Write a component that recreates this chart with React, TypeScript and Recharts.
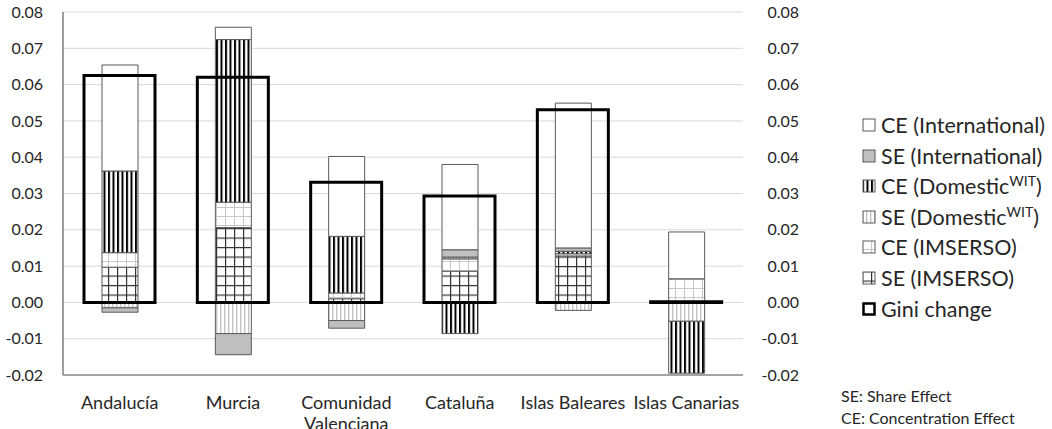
import React from "react";
import { BarChart, Bar, XAxis, YAxis, CartesianGrid } from "recharts";

// regions (categories)
const regions = [
  "Andalucía",
  "Murcia",
  "Comunidad Valenciana",
  "Cataluña",
  "Islas Baleares",
  "Islas Canarias",
];

// decomposition of the Gini change
const seImserso = [0.0097, 0.0206, 0.001, 0.0086, 0.0128, 0.0];
const ceImserso = [0.004, 0.007, 0.0016, 0.0034, 0.0006, 0.0065];
const seDomestic = [-0.0015, -0.0086, -0.005, 0.0005, -0.0022, -0.0052];
const ceDomestic = [0.0225, 0.0448, 0.0156, -0.0086, 0.0007, -0.0143];
const seInternational = [-0.0012, -0.0058, -0.0021, 0.002, 0.0009, 0.0];
const ceInternational = [0.0292, 0.0034, 0.022, 0.0235, 0.0399, 0.0129];
const giniChange = [0.0625, 0.062, 0.0331, 0.0293, 0.0531, 0.0002];

const yTicks = [-0.02, -0.01, 0, 0.01, 0.02, 0.03, 0.04, 0.05, 0.06, 0.07, 0.08];

const data = regions.map((region, i) => ({
  region,
  seIms: seImserso[i],
  ceIms: ceImserso[i],
  seDom: seDomestic[i],
  ceDom: ceDomestic[i],
  seInt: seInternational[i],
  ceInt: ceInternational[i],
  gini: giniChange[i],
}));

const FONT = "Lato, 'Liberation Sans', sans-serif";
const TEXT = "#262626";
const fmt = (v: number) => v.toFixed(2);

// series, bottom of stack first
const series = [
  { key: "seIms", fill: "url(#pSeIms)" },
  { key: "ceIms", fill: "url(#pCeIms)" },
  { key: "seDom", fill: "url(#pSeDom)" },
  { key: "ceDom", fill: "url(#pCeDom)" },
  { key: "seInt", fill: "#bfbfbf" },
  { key: "ceInt", fill: "#ffffff" },
];

const legendItems = [
  { label: "CE (International)", fill: "#ffffff" },
  { label: "SE (International)", fill: "#bfbfbf" },
  { label: "CE (Domestic", sup: "WIT", fill: "url(#pCeDom)" },
  { label: "SE (Domestic", sup: "WIT", fill: "url(#pSeDom)" },
  { label: "CE (IMSERSO)", fill: "url(#pCeIms)" },
  { label: "SE (IMSERSO)", fill: "url(#pSeIms)" },
  { label: "Gini change", fill: "none", gini: true },
];

function Patterns() {
  return (
    <svg width={0} height={0} style={{ position: "absolute" }}>
      <defs>
        <pattern id="pCeDom" patternUnits="userSpaceOnUse" width={4.5} height={10}>
          <rect width={4.5} height={10} fill="#fff" />
          <rect x={0} width={2} height={10} fill="#000" />
        </pattern>
        <pattern id="pSeDom" patternUnits="userSpaceOnUse" width={4} height={10}>
          <rect width={4} height={10} fill="#fff" />
          <rect x={0} width={1.4} height={10} fill="#c4c4c4" />
        </pattern>
        <pattern id="pCeIms" patternUnits="userSpaceOnUse" width={9} height={9}>
          <rect width={9} height={9} fill="#fff" />
          <rect x={0} width={1} height={9} fill="#c8c8c8" />
          <rect y={0} width={9} height={1} fill="#c8c8c8" />
        </pattern>
        <pattern id="pSeIms" patternUnits="userSpaceOnUse" width={9} height={9.5}>
          <rect width={9} height={9.5} fill="#fff" />
          <rect x={0} width={1.2} height={9.5} fill="#333" />
          <rect y={0} width={9} height={1.2} fill="#333" />
        </pattern>
      </defs>
    </svg>
  );
}

const CatTick = (props: any) => {
  const { x, y, payload } = props;
  const label = String(payload.value);
  const lines = label.length > 16 ? label.split(" ") : [label];
  return (
    <text x={x} y={y} textAnchor="middle" fill={TEXT} fontSize={18} fontFamily={FONT}>
      {lines.map((l, i) => (
        <tspan key={i} x={x} dy={i === 0 ? 31.5 : 21.5}>
          {l}
        </tspan>
      ))}
    </text>
  );
};

const LeftTick = (props: any) => {
  const { x, y, payload } = props;
  return (
    <text x={x - 18} y={y} dy="0.355em" textAnchor="end" fill={TEXT} fontSize={16} fontFamily={FONT}>
      {fmt(payload.value)}
    </text>
  );
};

const RightTick = (props: any) => {
  const { x, y, payload } = props;
  return (
    <text x={x + 54} y={y} dy="0.355em" textAnchor="end" fill={TEXT} fontSize={16} fontFamily={FONT}>
      {fmt(payload.value)}
    </text>
  );
};

export default function App() {
  return (
    <div
      style={{
        position: "absolute",
        left: 0,
        top: 0,
        width: 1052,
        height: 429,
        background: "#fff",
        overflow: "hidden",
        fontFamily: FONT,
      }}
    >
      <Patterns />
      <BarChart
        width={808}
        height={429}
        data={data}
        stackOffset="sign"
        margin={{ top: 12, right: 0, bottom: 14, left: 0 }}
      >
        <CartesianGrid xAxisId="main" yAxisId="l" vertical={false} stroke="#d9d9d9" strokeWidth={1} />
        <XAxis
          xAxisId="main"
          dataKey="region"
          height={40}
          interval={0}
          tickLine={false}
          tickSize={0}
          axisLine={{ stroke: "#8c8c8c", strokeWidth: 1.5 }}
          tick={<CatTick />}
        />
        <XAxis xAxisId="gini" dataKey="region" height={0} hide />
        <YAxis
          yAxisId="l"
          width={63}
          domain={[-0.02, 0.08]}
          ticks={yTicks}
          axisLine={{ stroke: "#7f7f7f", strokeWidth: 1.5 }}
          tickLine={false}
          tickSize={0}
          tick={<LeftTick />}
          allowDataOverflow
        />
        <YAxis
          yAxisId="r"
          orientation="right"
          width={65}
          domain={[-0.02, 0.08]}
          ticks={yTicks}
          axisLine={false}
          tickLine={false}
          tickSize={0}
          tick={<RightTick />}
          allowDataOverflow
        />
        {series.map((s) => (
          <Bar
            key={s.key}
            dataKey={s.key}
            xAxisId="main"
            yAxisId="l"
            stackId="a"
            barSize={36}
            fill={s.fill}
            stroke="#595959"
            strokeWidth={1}
            isAnimationActive={false}
          />
        ))}
        <Bar
          dataKey="gini"
          xAxisId="gini"
          yAxisId="l"
          barSize={71}
          fill="none"
          stroke="#000"
          strokeWidth={3}
          isAnimationActive={false}
        />
      </BarChart>

      {/* legend */}
      <div style={{ position: "absolute", left: 862, top: 110 }}>
        {legendItems.map((it, i) => (
          <div
            key={i}
            style={{
              position: "absolute",
              left: 0,
              top: i * 30.6,
              height: 30,
              display: "flex",
              alignItems: "center",
              whiteSpace: "nowrap",
              fontSize: 21.5,
              color: TEXT,
            }}
          >
            <svg width={14} height={14} style={{ marginRight: 5 }}>
              <rect
                x={it.gini ? 1.5 : 1}
                y={it.gini ? 1.5 : 1}
                width={it.gini ? 11 : 12}
                height={it.gini ? 11 : 12}
                fill={it.fill}
                stroke={it.gini ? "#000" : "#595959"}
                strokeWidth={it.gini ? 2.5 : 1}
              />
            </svg>
            <span>
              {it.label}
              {it.sup && <sup style={{ fontSize: 14, lineHeight: 0 }}>{it.sup}</sup>}
              {it.sup && ")"}
            </span>
          </div>
        ))}
      </div>

      {/* footnote */}
      <div style={{ position: "absolute", left: 841, top: 385, fontSize: 16, color: TEXT, lineHeight: "22px" }}>
        <div>SE: Share Effect</div>
        <div>CE: Concentration Effect</div>
      </div>
    </div>
  );
}
